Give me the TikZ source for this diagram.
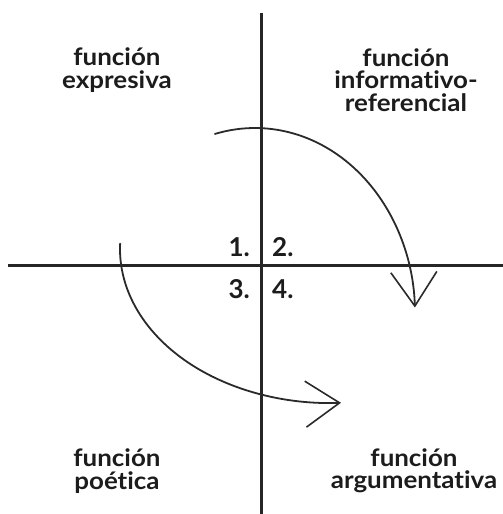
\documentclass[tikz,border=0pt]{standalone}
\usepackage{fontspec}
\setmainfont{Lato}[BoldFont={Lato Bold},Ligatures=NoCommon]
\newfontfamily\widelato{Lato}[BoldFont={Lato Bold},Ligatures=NoCommon,FakeStretch=1.08]
\usepackage{tikz}
\usetikzlibrary{arrows.meta,positioning,calc}
\definecolor{QInk}{HTML}{1C1C1C}
\definecolor{QLine}{HTML}{262626}
\definecolor{QPencil}{HTML}{2A2A2A}

\begin{document}
\begin{tikzpicture}[
  x=1pt,y=1pt,
  axis/.style={draw=QLine,line width=3pt},
  turn/.style={-{Straight Barb[length=34pt,width=46pt,line width=1.6pt]},draw=QPencil,line width=1.8pt,line cap=round},
  quadlabel/.style={align=center,font=\widelato\bfseries\fontsize{24}{22.5}\selectfont,text=QInk,inner sep=0pt},
  quadnum/.style={font=\bfseries\fontsize{26}{26}\selectfont,text=QInk,inner sep=0pt}
]
\useasboundingbox (0,0) rectangle (503,514);
% axes
\coordinate (o) at (261,248);
\coordinate (n) at (261,501);
\coordinate (s) at (261,0);
\coordinate (w) at (8,248);
\coordinate (e) at (503,248);
\draw[axis] (n) -- (s);
\draw[axis] (w) -- (e);
% quadrant names
\node[quadlabel] (expr) at (117,444) {función\\expresiva};
\node[quadlabel] (info) at (406,434) {función\\informativo-\\referencial};
\node[quadlabel] (poet) at (117,43) {función\\poética};
\node[quadlabel] (argu) at (414,43) {función\\argumentativa};
% numbers
\node[quadnum,anchor=base east] (q1) at (250,257) {1.};
\node[quadnum,anchor=base west] (q2) at (272,257) {2.};
\node[quadnum,anchor=base east] (q3) at (250,215) {3.};
\node[quadnum,anchor=base west] (q4) at (272,215) {4.};
% turning arrows
\coordinate (t1) at ($(255,200)+(104.5:160 and 186)$);
\coordinate (t3) at ($(330,265)+(178:210 and 154)$);
\draw[turn] (t1) arc[start angle=104.5,end angle=2,x radius=160,y radius=186];
\draw[turn] (t3) arc[start angle=178,end angle=273,x radius=210,y radius=154];
\end{tikzpicture}
\end{document}
